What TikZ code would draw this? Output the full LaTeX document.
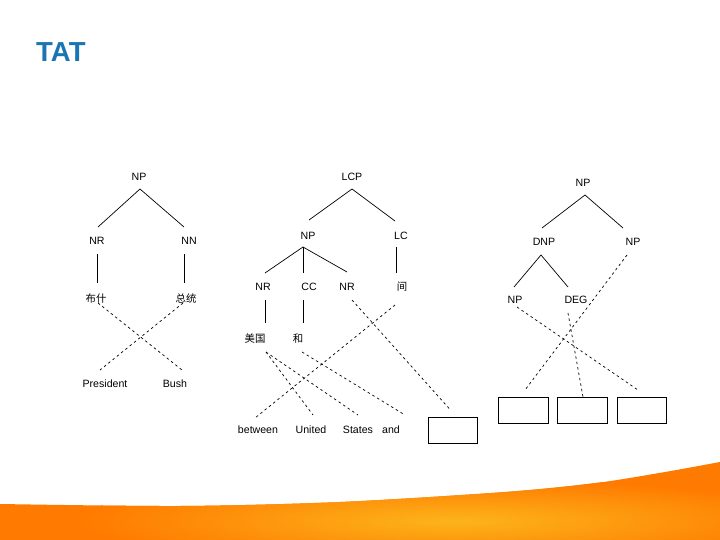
\documentclass[tikz,border=0pt]{standalone}
\usepackage{fontspec}
\setmainfont{Liberation Sans}
\newfontfamily\cjk{Noto Sans CJK SC}
\usetikzlibrary{calc}
\definecolor{titleblue}{RGB}{27,117,178}
\definecolor{orng}{RGB}{255,122,0}
\definecolor{glowc}{RGB}{252,180,26}
\begin{document}
\begin{tikzpicture}[x=1pt,y=-1pt,
  lbl/.style={inner sep=0pt,font=\fontsize{10.6}{12}\selectfont},
  zh/.style={inner sep=0pt,font=\cjk\fontsize{10.4}{12}\selectfont},
  tl/.style={line width=0.7pt},
  dl/.style={line width=0.7pt,dash pattern=on 2.5pt off 3pt},
  wbox/.style={draw,line width=0.8pt,minimum width=49pt,minimum height=26pt,inner sep=0pt}]
\useasboundingbox (0,0) rectangle (720,540);
% bottom swoosh
\fill[orng] plot[smooth] coordinates {(0,504) (180,506) (340,502) (505,492) (596,483) (665,472) (720,462)} -- (720,540) -- (0,540) -- cycle;
\begin{scope}
\clip plot[smooth] coordinates {(0,504) (180,506) (340,502) (505,492) (596,483) (665,472) (720,462)} -- (720,540) -- (0,540) -- cycle;
\shade[inner color=glowc, outer color=orng] (455,521) ellipse [x radius=380, y radius=42];
\end{scope}
% title
\node[anchor=base west,inner sep=0pt,font=\bfseries\fontsize{27.5}{30}\selectfont,text=titleblue] (title) at (36,62) {TAT};
% tree 1
\node[lbl] (t1np) at (139,177) {NP};
\node[lbl] (t1nr) at (97,241) {NR};
\node[lbl] (t1nn) at (189,241) {NN};
\node[zh] (bu) at (96,299) {布什};
\node[zh] (zt) at (186,299) {总统};
\node[lbl] (pres) at (105,384) {President};
\node[lbl] (bush) at (175,384) {Bush};
\draw[tl] ($(t1nr)+(1,-14)$) -- ($(t1np)+(1,12)$) -- ($(t1nn)+(-5,-14)$);
\draw[tl] ($(t1nr)+(0,13)$) -- ($(bu)+(1,-16)$);
\draw[tl] ($(t1nn)+(-5,13)$) -- ($(zt)+(-2,-16)$);
\draw[dl] ($(bu)+(2,4)$) -- ($(bush)+(7,-14)$);
\draw[dl] ($(zt)+(-3,4)$) -- ($(pres)+(-5,-14)$);
% tree 2
\node[lbl] (lcp) at (352,177) {LCP};
\node[lbl] (np2) at (308,236) {NP};
\node[lbl] (lc) at (401,236) {LC};
\node[lbl] (nra) at (263,287) {NR};
\node[lbl] (cc) at (309,287) {CC};
\node[lbl] (nrb) at (347,287) {NR};
\node[zh] (jian) at (402,287) {间};
\node[zh] (mg) at (255,339) {美国};
\node[zh] (he) at (298,339) {和};
\node[lbl] (betw) at (258,430) {between};
\node[lbl] (unit) at (311,430) {United};
\node[lbl] (stat) at (358,430) {States};
\node[lbl] (andw) at (391,430) {and};
\node[wbox] (box0) at (452.5,430) {};
\draw[tl] ($(np2)+(1,-16)$) -- ($(lcp)+(0,12)$) -- ($(lc)+(-6,-15)$);
\draw[tl] ($(np2)+(-5,11)$) -- ($(nra)+(2,-14)$);
\draw[tl] ($(np2)+(-5,11)$) -- ($(cc)+(-6,-14)$);
\draw[tl] ($(np2)+(-5,11)$) -- ($(nrb)+(0,-15)$);
\draw[tl] ($(lc)+(-5,11)$) -- ($(jian)+(-6,-14)$);
\draw[tl] ($(nra)+(2,13)$) -- ($(mg)+(10,-16)$);
\draw[tl] ($(cc)+(-6,13)$) -- ($(he)+(5,-16)$);
\draw[dl] ($(nrb)+(5,13)$) -- ($(box0)+(-2,-20)$);
\draw[dl] ($(jian)+(-7,18)$) -- ($(betw)+(-3,-12)$);
\draw[dl] ($(mg)+(11,13)$) -- ($(unit)+(2,-15)$);
\draw[dl] ($(mg)+(11,13)$) -- ($(stat)+(0,-15)$);
\draw[dl] ($(he)+(4,13)$) -- ($(andw)+(14,-15)$);
% tree 3
\node[lbl] (np3) at (583,183) {NP};
\node[lbl] (dnp) at (544,242) {DNP};
\node[lbl] (np3r) at (633,242) {NP};
\node[lbl] (np3a) at (515,300) {NP};
\node[lbl] (deg) at (576,300) {DEG};
\node[wbox,minimum width=50pt] (box1) at (523,410) {};
\node[wbox,minimum width=50pt] (box2) at (582,410) {};
\node[wbox,minimum width=49pt] (box3) at (641.5,410) {};
\draw[tl] ($(dnp)+(-2,-14)$) -- ($(np3)+(2,12)$) -- ($(np3r)+(-10,-14)$);
\draw[tl] ($(np3a)+(-1,-13)$) -- ($(dnp)+(-3,13)$) -- ($(deg)+(-8,-13)$);
\draw[dl] ($(np3r)+(-6,13)$) -- ($(box1)+(2,-20)$);
\draw[dl] ($(np3a)+(2,7)$) -- ($(box3)+(-3.5,-20)$);
\draw[dl] ($(deg)+(-8,13)$) -- ($(box2)+(1,-13)$);
\end{tikzpicture}
\end{document}
